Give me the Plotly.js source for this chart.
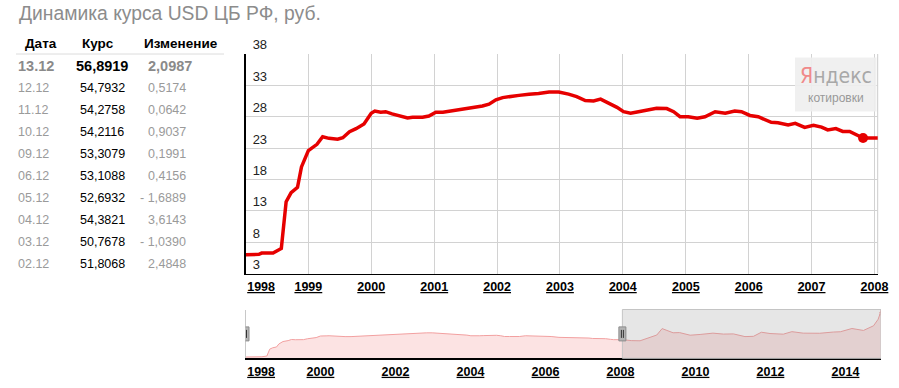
<!DOCTYPE html>
<html><head><meta charset="utf-8">
<script src="https://cdn.plot.ly/plotly-3.0.1.min.js"></script>
<style>html,body{margin:0;padding:0;background:#fff;}#chart{width:899px;height:388px;}</style>
</head><body><div id="chart"></div>
<script>
// ---------- data ----------
const chartTitle = 'Динамика курса USD ЦБ РФ, руб.';
const tableHeaders = ['Дата', 'Курс', 'Изменение'];
const tableDates = ['13.12','12.12','11.12','10.12','09.12','06.12','05.12','04.12','03.12','02.12'];
const tableRates = ['56,8919','54,7932','54,2758','54,2116','53,3079','53,1088','52,6932','54,3821','50,7678','51,8068'];
const tableChanges = ['2,0987','0,5174','0,0642','0,9037','0,1991','0,4156','- 1,6889','3,6143','- 1,0390','2,4848'];
const tableYear = 2014;

const historyDates = [
 '1998-01-01','1998-03-20','1998-04-05','1998-06-10','1998-07-28','1998-08-25','1998-09-23','1998-10-30','1998-11-22',
 '1999-01-01','1999-02-20','1999-03-25','1999-05-01','1999-06-20','1999-07-20','1999-08-28','1999-10-05','1999-11-20',
 '2000-01-01','2000-01-22','2000-02-25','2000-03-25','2000-05-01','2000-06-10','2000-07-30','2000-08-28','2000-10-25','2000-12-01',
 '2001-01-10','2001-02-20','2001-04-08','2001-06-12','2001-07-22','2001-10-08','2001-11-15','2001-12-25',
 '2002-02-02','2002-03-28','2002-05-08','2002-07-05','2002-08-30','2002-10-30','2002-12-25',
 '2003-02-20','2003-04-08','2003-05-28','2003-07-15','2003-08-25','2003-10-12','2003-11-28',
 '2004-01-05','2004-02-15','2004-04-01','2004-05-10','2004-07-15','2004-09-12','2004-10-22','2004-11-28',
 '2005-01-15','2005-03-08','2005-04-22','2005-06-20','2005-08-18','2005-10-12','2005-11-20',
 '2006-01-08','2006-02-25','2006-05-12','2006-06-20','2006-08-18','2006-09-28','2006-11-22',
 '2007-01-12','2007-02-28','2007-04-05','2007-05-22','2007-07-01','2007-08-10','2007-09-27','2007-10-27',
 '2008-01-25','2008-04-15','2008-07-10','2008-10-15','2008-12-20',
 '2009-02-10','2009-03-28','2009-05-28','2009-07-30','2009-11-10',
 '2010-02-15','2010-06-20','2010-09-30',
 '2011-01-05','2011-04-28','2011-07-20','2011-10-05','2011-12-28',
 '2012-05-05','2012-07-28','2012-11-15',
 '2013-04-25','2013-09-05','2013-11-12',
 '2014-03-05','2014-06-25','2014-10-01','2014-11-15'
];
const historyRates = [
 6.0,6.05,6.25,6.25,7.0,14.45,15.9,16.75,20.0,
 22.6,23.6,24.8,24.55,24.4,24.65,25.6,26.1,26.85,
 28.55,28.9,28.7,28.8,28.45,28.1,27.8,27.9,27.9,28.1,
 28.7,28.7,28.9,29.3,29.35,29.7,30.0,30.7,
 31.05,31.3,31.4,31.6,31.7,31.95,31.95,
 31.6,31.2,30.57,30.5,30.8,30.15,29.5,
 28.8,28.55,28.8,29.0,29.35,29.3,28.8,28.0,
 28.0,27.75,28.0,28.8,28.55,28.9,28.8,
 28.2,28.0,27.1,27.05,26.7,26.95,26.3,
 26.65,26.35,25.9,26.1,25.65,25.65,24.95,24.6,
 24.6,23.6,23.4,27.2,29.6,
 36.5,34.2,32.0,32.2,29.4,
 30.2,31.6,30.6,
 30.8,27.9,28.2,32.6,31.2,
 30.5,33.2,31.6,
 31.5,32.8,33.1,
 36.6,34.5,39.5,46.5
];
const highlightDate = '2007-10-27';
const mainViewStart = '1998-01-01';
const mainViewEnd = '2008-01-20';
const mainYTicks = [3, 8, 13, 18, 23, 28, 33, 38];
const mainXYears = [1998,1999,2000,2001,2002,2003,2004,2005,2006,2007,2008];
const navXYears = [1998,2000,2002,2004,2006,2008,2010,2012,2014];
const logoMain = 'Яндекс';
const logoSub = 'котировки';

// ---------- build ----------
const recentDates = tableDates.slice().reverse().map(d => {
  const [dd, mm] = d.split('.');
  return tableYear + '-' + mm + '-' + dd;
});
const recentRates = tableRates.slice().reverse().map(r => parseFloat(r.replace(',', '.')));
const allDates = historyDates.concat(recentDates);
const allRates = historyRates.concat(recentRates);
const lastDate = allDates[allDates.length - 1];
const hiVal = allRates[allDates.indexOf(highlightDate)];

const W = 899, H = 388;
const px = x => x / W, py = y => 1 - y / H;
const F = 'Arial, "Liberation Sans", sans-serif';
const RED = '#e60000';

function yearLabel(y, i) {
  const s = '<b><u>' + y + '</u></b>';
  return i === 0 ? '\u00a0'.repeat(9) + s : s;
}

const traces = [
  {x: allDates, y: allRates, xaxis: 'x', yaxis: 'y', mode: 'lines',
   line: {color: RED, width: 3.5}, hoverinfo: 'skip'},
  {x: [highlightDate], y: [hiVal], xaxis: 'x', yaxis: 'y', mode: 'markers',
   marker: {color: RED, size: 10}, hoverinfo: 'skip'},
  {x: allDates, y: allRates, xaxis: 'x2', yaxis: 'y2', mode: 'lines', fill: 'tozeroy',
   fillcolor: 'rgba(250,200,200,0.5)', line: {color: '#f2a0a0', width: 1}, hoverinfo: 'skip'}
];

const annotations = [];
annotations.push({xref: 'paper', yref: 'paper', x: px(17), y: py(14), xanchor: 'left', yanchor: 'middle',
  text: chartTitle, showarrow: false, font: {family: F, size: 19.3, color: '#8c8c8c'}});
const hdrX = [[23, 'left'], [98, 'center'], [181, 'center']];
tableHeaders.forEach((h, i) => annotations.push({xref: 'paper', yref: 'paper', x: px(hdrX[i][0]), y: py(43.5),
  xanchor: hdrX[i][1], yanchor: 'middle', text: '<b>' + h + '</b>', showarrow: false,
  font: {family: F, size: 13.5, color: '#000'}}));
tableDates.forEach((d, i) => {
  const y = py(65.7 + i * 22);
  const first = i === 0;
  const sz = first ? 14.5 : 12.5;
  const wrap = t => first ? '<b>' + t + '</b>' : t;
  annotations.push({xref: 'paper', yref: 'paper', x: px(16), y, xanchor: 'left', yanchor: 'middle',
    text: wrap(d), showarrow: false, font: {family: F, size: sz, color: first ? '#8a8a8a' : '#9a9a9a'}});
  annotations.push({xref: 'paper', yref: 'paper', x: px(102), y, xanchor: 'center', yanchor: 'middle',
    text: wrap(tableRates[i]), showarrow: false, font: {family: F, size: sz, color: '#000'}});
  annotations.push({xref: 'paper', yref: 'paper', x: px(first ? 194 : 188), y, xanchor: 'right', yanchor: 'middle',
    text: wrap(tableChanges[i]), showarrow: false, font: {family: F, size: sz, color: first ? '#8a8a8a' : '#9a9a9a'}});
});
annotations.push({xref: 'paper', yref: 'paper', x: px(836), y: py(76), xanchor: 'center', yanchor: 'middle',
  text: '<span style="color:#f08a8a">' + logoMain[0] + '</span>' + logoMain.slice(1), showarrow: false,
  font: {family: '"Liberation Sans Narrow", "DejaVu Sans Condensed", Arial', size: 21, color: '#a8a8a8'}});
annotations.push({xref: 'paper', yref: 'paper', x: px(836), y: py(97.5), xanchor: 'center', yanchor: 'middle',
  text: logoSub, showarrow: false, font: {family: F, size: 12, color: '#999'}});

const shapes = [
  {type: 'line', xref: 'paper', yref: 'paper', x0: px(16), x1: px(224), y0: py(54), y1: py(54),
   line: {color: '#dcdcdc', width: 1}},
  {type: 'line', xref: 'x domain', yref: 'y domain', x0: 1, x1: 1, y0: 0, y1: 1,
   line: {color: '#cccccc', width: 1}, layer: 'below'},
  {type: 'rect', xref: 'paper', yref: 'paper', x0: px(795), x1: px(876.5), y0: py(111.5), y1: py(57.5),
   fillcolor: 'rgba(238,238,238,0.9)', line: {width: 0}, layer: 'above'},
  {type: 'rect', xref: 'x2', yref: 'y2 domain', x0: mainViewEnd, x1: lastDate, y0: 0, y1: 1,
   fillcolor: 'rgba(140,140,140,0.22)', line: {color: '#c4c4c4', width: 1}, layer: 'above'}
];
[mainViewStart, mainViewEnd].forEach(d => {
  shapes.push({type: 'rect', xref: 'x2', yref: 'y2 domain', xsizemode: 'pixel', ysizemode: 'pixel',
    xanchor: d, yanchor: 0.5, x0: -3.5, x1: 3.5, y0: -7, y1: 7,
    fillcolor: '#b4b4b4', line: {color: '#8c8c8c', width: 1}, layer: 'above'});
  [-1, 1].forEach(o => shapes.push({type: 'line', xref: 'x2', yref: 'y2 domain', xsizemode: 'pixel', ysizemode: 'pixel',
    xanchor: d, yanchor: 0.5, x0: o, x1: o, y0: -4, y1: 4, line: {color: '#333', width: 1}, layer: 'above'}));
});

const layout = {
  width: W, height: H, margin: {l: 0, r: 0, t: 0, b: 0},
  paper_bgcolor: '#fff', plot_bgcolor: '#fff', showlegend: false,
  font: {family: F},
  xaxis: {type: 'date', domain: [px(245.5), px(877.7)], anchor: 'y',
    range: [mainViewStart, mainViewEnd], tickmode: 'array',
    tickvals: mainXYears.map(y => y + '-01-01'), ticktext: mainXYears.map(yearLabel),
    showgrid: true, gridcolor: '#d2d2d2', gridwidth: 1, zeroline: false,
    showline: true, linecolor: '#000', linewidth: 1.5, ticks: '',
    tickfont: {family: F, size: 12.5, color: '#000'}, ticklabelstandoff: 1},
  yaxis: {domain: [py(273.5), py(54)], anchor: 'x', range: [3, 38], tickmode: 'array', tickvals: mainYTicks,
    showgrid: true, gridcolor: '#d2d2d2', gridwidth: 1, zeroline: false,
    showline: true, linecolor: '#000', linewidth: 1.5, ticks: '',
    ticklabelposition: 'inside top', ticklabeloverflow: 'allow', ticklabelstandoff: 6,
    tickfont: {family: F, size: 13, color: '#222'}},
  xaxis2: {type: 'date', domain: [px(245.5), px(881)], anchor: 'y2',
    range: [mainViewStart, lastDate], tickmode: 'array',
    tickvals: navXYears.map(y => y + '-01-01'), ticktext: navXYears.map(yearLabel),
    showgrid: false, zeroline: false, showline: true, linecolor: '#000', linewidth: 1.5, ticks: '',
    tickfont: {family: F, size: 12.5, color: '#000'}, ticklabelstandoff: 1},
  yaxis2: {domain: [py(358.3), py(309.5)], anchor: 'x2', range: [4.6, 57],
    showgrid: false, zeroline: false, showticklabels: false, ticks: '',
    showline: true, linecolor: '#c8c8c8', linewidth: 1},
  shapes, annotations
};

Plotly.newPlot('chart', traces, layout, {staticPlot: true, displayModeBar: false});
</script>
</body></html>
